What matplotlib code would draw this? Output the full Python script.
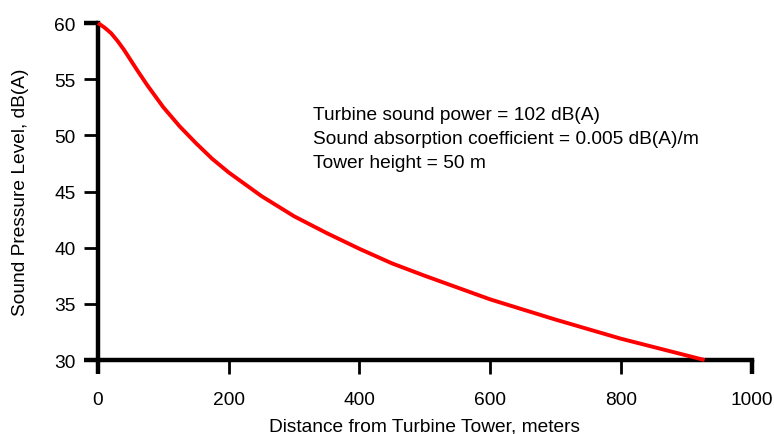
import matplotlib
matplotlib.use("Agg")
import matplotlib.pyplot as plt

# Values
distance_m = [0, 10, 20, 30, 40, 50, 60, 75, 100, 125, 150, 175, 200, 250, 300, 350,
              400, 450, 500, 600, 700, 800, 928]
spl_dba = [60.0, 59.6, 59.1, 58.4, 57.6, 56.7, 55.8, 54.5, 52.5, 50.8, 49.3, 47.9, 46.7,
           44.6, 42.8, 41.3, 39.9, 38.6, 37.5, 35.4, 33.6, 31.9, 30.0]

x_ticks = [0, 200, 400, 600, 800, 1000]
y_ticks = [30, 35, 40, 45, 50, 55, 60]
annotation_lines = [
    "Turbine sound power = 102 dB(A)",
    "Sound absorption coefficient = 0.005 dB(A)/m",
    "Tower height = 50 m",
]

plt.rcParams['font.family'] = ['Liberation Sans', 'DejaVu Sans']
FS = 13.8

fig = plt.figure(figsize=(7.74, 4.35), dpi=100)
ax = fig.add_axes([0.1266, 0.170, 0.8446, 0.7747])

ax.plot(distance_m, spl_dba, color='#ff0000', lw=2.8, solid_capstyle='butt',
        solid_joinstyle='round', clip_on=False, zorder=3)

ax.set_xlim(0, 1000)
ax.set_ylim(30, 60)
ax.set_xticks(x_ticks)
ax.set_yticks(y_ticks)
ax.tick_params(direction='out', length=10, width=2.0, labelsize=FS, pad=6)
ax.tick_params(axis='x', pad=12)

# thicker end ticks
for t in (ax.xaxis.get_major_ticks()[0], ax.xaxis.get_major_ticks()[-1],
          ax.yaxis.get_major_ticks()[0], ax.yaxis.get_major_ticks()[-1]):
    t.tick1line.set_markeredgewidth(3.2)

for side in ['top', 'right']:
    ax.spines[side].set_visible(False)
for side in ['left', 'bottom']:
    ax.spines[side].set_linewidth(3.2)
    ax.spines[side].set_capstyle('projecting')

ax.set_xlabel("Distance from Turbine Tower, meters", fontsize=FS, labelpad=7)
ax.set_ylabel("Sound Pressure Level, dB(A)", fontsize=FS, labelpad=18)

fig.text(313 / 774, 1 - 107 / 435, "\n".join(annotation_lines),
         fontsize=FS, va='top', ha='left', linespacing=1.55)

fig.savefig("out.png", dpi=100)
